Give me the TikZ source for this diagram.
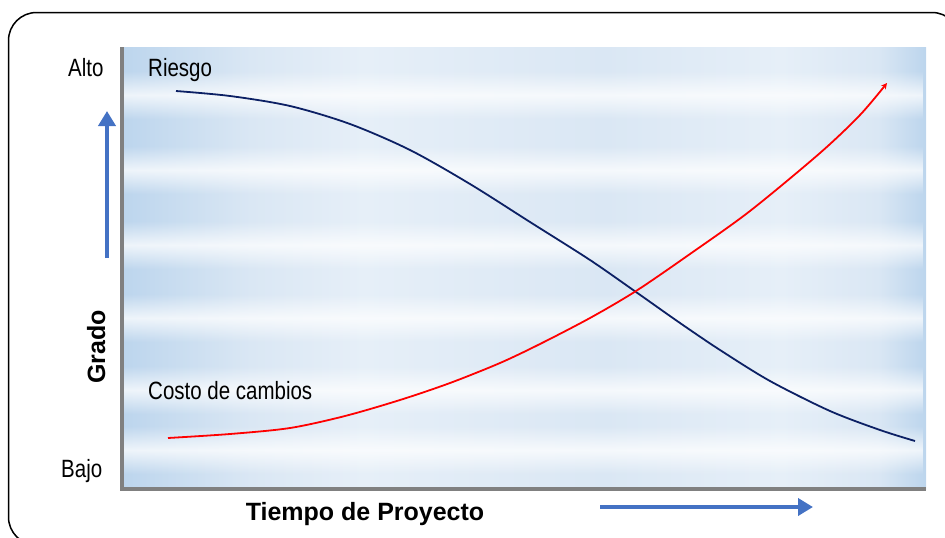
\documentclass[tikz,border=0pt]{standalone}
\usepackage{fontspec}
\setmainfont{Liberation Sans}
\newfontfamily\narrowfont{Liberation Sans}[FakeStretch=0.82]
\usetikzlibrary{arrows.meta,fadings}
\definecolor{bgedge}{RGB}{188,213,237}
\definecolor{bgmid}{RGB}{230,239,248}
\definecolor{bglight}{RGB}{218,231,244}
\definecolor{axisgray}{RGB}{128,128,128}
\definecolor{arrowblue}{RGB}{68,114,196}
\definecolor{riesgoblue}{RGB}{12,32,100}
\pgfdeclarehorizontalshading{plotbg}{100bp}{color(0bp)=(bgedge); color(25bp)=(bgedge);
  color(33bp)=(bglight); color(40bp)=(bgmid); color(55bp)=(bglight);
  color(66bp)=(bgmid); color(72bp)=(bglight); color(75bp)=(bgedge); color(100bp)=(bgedge)}
\tikzfading[name=bandfade, top color=transparent!100, bottom color=transparent!100,
  middle color=transparent!25]

\begin{document}
\begin{tikzpicture}[x=1pt,y=-1pt,
    lbl/.style={font=\narrowfont\fontsize{25}{30}\selectfont, inner sep=0pt, anchor=base west},
    ttl/.style={font=\bfseries\fontsize{25}{30}\selectfont, inner sep=0pt, anchor=base},
    bluearrow/.style={-{Triangle[length=15pt,width=17pt]}, line width=4pt, draw=arrowblue},
    curve/.style={line width=1.8pt, line join=round}]
    \useasboundingbox (0,0) rectangle (945,538);
    % Frame
    \begin{scope}
        \clip (0,0) rectangle (945,538);
        \draw[line width=1.5pt, rounded corners=28pt] (8.5,12.5) rectangle (960,545);
    \end{scope}
    % Background
    \shade[shading=plotbg] (122,47) rectangle (926,489);
    \foreach \y in {95,170,245,318,390,450} {
        \fill[white, path fading=bandfade] (124,\y-24) rectangle (924,\y+24);
    }
    % Curves
    \draw[curve, riesgoblue] plot[smooth, tension=0.5] coordinates {(176,91) (230,96) (290,106)
        (350,124) (410,150) (470,184) (530,222) (590,260) (636,292) (680,323) (720,350)
        (770,381) (830,411) (880,430) (915,441)};
    \draw[curve, red, -{Stealth[length=6pt,width=6pt]}] plot[smooth, tension=0.5] coordinates {(168,438)
        (230,434) (290,428) (345,416) (400,400) (450,383) (500,363) (540,344) (590,318)
        (636,291) (690,254) (750,211) (820,153) (860,115) (887,83)};
    % Axes
    \coordinate (origin) at (122,489);
    \coordinate (ytop) at (122,47);
    \coordinate (xend) at (926,489);
    \draw[axisgray, line width=3.5pt] (ytop) -- (origin) -- (xend);
    % Arrows
    \coordinate (upfrom) at (107,258);
    \coordinate (upto) at (107,111);
    \coordinate (rfrom) at (600,507);
    \coordinate (rto) at (813,507);
    \draw[bluearrow] (upfrom) -- (upto);
    \draw[bluearrow] (rfrom) -- (rto);
    % Labels
    \node[lbl] (alto) at (68,76) {Alto};
    \node[lbl] (bajo) at (61,477) {Bajo};
    \node[lbl] (riesgo) at (148,76) {Riesgo};
    \node[lbl] (costo) at (148,399) {Costo de cambios};
    \node[ttl, rotate=90] (grado) at (105,347) {Grado};
    \node[ttl] (tiempo) at (365,520) {Tiempo de Proyecto};
\end{tikzpicture}
\end{document}
